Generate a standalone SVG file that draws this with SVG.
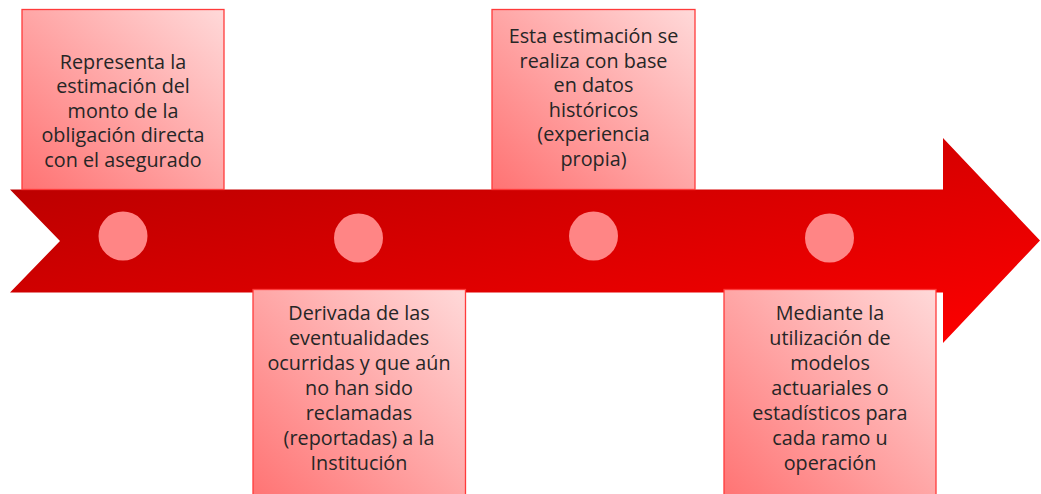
<svg xmlns="http://www.w3.org/2000/svg" width="1041" height="494" viewBox="0 0 1041 494">
<defs>
<linearGradient id="arrowGrad" x1="0" y1="0" x2="1" y2="1" gradientUnits="objectBoundingBox">
<stop offset="0" stop-color="#b30000"/>
<stop offset="1" stop-color="#ff0000"/>
</linearGradient>
<linearGradient id="boxGrad" x1="0" y1="1" x2="1" y2="0">
<stop offset="0" stop-color="#ff7373"/>
<stop offset="1" stop-color="#ffd9d9"/>
</linearGradient>
<style>
.box{fill:url(#boxGrad);stroke:#ff3b3b;stroke-width:1.3}
.dot{fill:#ff8585}
.t{font-family:"Open Sans","Liberation Sans",Arial,sans-serif;font-size:19.8px;fill:#262626;text-anchor:middle}
</style>
</defs>
<g id="connectors">
<path d="M10,189.5 L943,189.5 L943,138 L1040,240.5 L943,343 L943,292.5 L10,292.5 L60,241 Z" fill="url(#arrowGrad)"/>
</g>
<g id="dot1"><circle class="dot" cx="123" cy="236" r="24.5"/></g>
<g id="dot2"><circle class="dot" cx="358.5" cy="238" r="24.5"/></g>
<g id="dot3"><circle class="dot" cx="593.5" cy="236" r="24.5"/></g>
<g id="dot4"><circle class="dot" cx="829.5" cy="238" r="24.5"/></g>
<g id="box1">
<rect class="box" x="22" y="9.5" width="202" height="180"/>
<text class="t" x="123" y="68.5">Representa la</text>
<text class="t" x="123" y="93">estimación del</text>
<text class="t" x="123" y="117.5">monto de la</text>
<text class="t" x="123" y="142">obligación directa</text>
<text class="t" x="123" y="166.5">con el asegurado</text>
</g>
<g id="box2">
<rect class="box" x="253" y="289.5" width="212.5" height="210"/>
<text class="t" x="359" y="320">Derivada de las</text>
<text class="t" x="359" y="345">eventualidades</text>
<text class="t" x="359" y="370">ocurridas y que aún</text>
<text class="t" x="359" y="395">no han sido</text>
<text class="t" x="359" y="420">reclamadas</text>
<text class="t" x="359" y="445">(reportadas) a la</text>
<text class="t" x="359" y="470">Institución</text>
</g>
<g id="box3">
<rect class="box" x="492" y="9.5" width="203" height="180"/>
<text class="t" x="593.5" y="43">Esta estimación se</text>
<text class="t" x="593.5" y="67.5">realiza con base</text>
<text class="t" x="593.5" y="92">en datos</text>
<text class="t" x="593.5" y="116.5">históricos</text>
<text class="t" x="593.5" y="141">(experiencia</text>
<text class="t" x="593.5" y="165.5">propia)</text>
</g>
<g id="box4">
<rect class="box" x="724" y="289.5" width="212" height="210"/>
<text class="t" x="830" y="320">Mediante la</text>
<text class="t" x="830" y="345">utilización de</text>
<text class="t" x="830" y="370">modelos</text>
<text class="t" x="830" y="395">actuariales o</text>
<text class="t" x="830" y="420">estadísticos para</text>
<text class="t" x="830" y="445">cada ramo u</text>
<text class="t" x="830" y="470">operación</text>
</g>
</svg>
